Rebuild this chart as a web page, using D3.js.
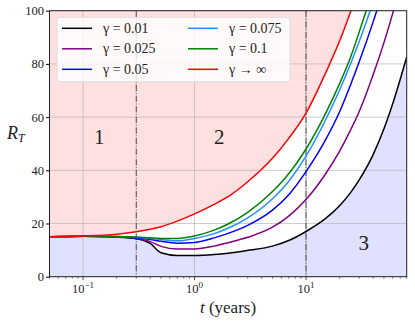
<!DOCTYPE html>
<html>
<head>
<meta charset="utf-8">
<script src="https://cdn.jsdelivr.net/npm/d3@7"></script>
<style>
body { margin: 0; background: #fff; }
svg text { font-family: "Liberation Serif", "DejaVu Serif", serif; fill: #222; }
</style>
</head>
<body>
<div id="chart"></div>
<script>
// data
var times = [0.05, 0.1, 0.2, 0.3, 0.4, 0.5, 0.7, 1, 1.5, 2, 3, 5, 7, 10, 15, 20, 25, 30, 40, 50, 60, 80];
var gamma001  = [15.0, 15.2, 14.9, 14.3, 12.5, 9.0, 8.0, 8.0, 8.35, 8.85, 9.9, 11.5, 13.6, 17.0, 21.9, 26.7, 31.5, 36.4, 45.9, 55.6, 65.1, 82.6];
var gamma0025 = [15.0, 15.2, 15.0, 14.4, 13.2, 11.4, 10.4, 10.4, 11.5, 12.8, 14.8, 18.6, 22.8, 29.0, 38.7, 47.2, 55.0, 62.1, 75.9, 88.0, 99.1, 117.9];
var gamma005  = [15.0, 15.2, 15.0, 14.6, 14.0, 13.3, 12.6, 12.9, 14.6, 16.3, 19.3, 25.0, 30.8, 39.5, 51.5, 62.0, 72.0, 80.8, 95.8, 108.5, null, null];
var gamma0075 = [15.0, 15.2, 15.1, 14.8, 14.4, 14.0, 13.5, 14.4, 16.2, 18.2, 22.1, 29.3, 35.9, 45.3, 59.0, 70.2, 79.9, 88.4, 103.2, null, null, null];
var gamma01   = [15.0, 15.2, 15.1, 14.9, 14.6, 14.4, 14.4, 15.3, 17.5, 19.8, 24.2, 32.0, 38.7, 48.0, 61.4, 72.6, 82.3, 92.0, 108.0, null, null, null];
var gammaInf  = [15.0, 15.3, 16.0, 16.9, 17.8, 18.8, 20.9, 23.6, 27.2, 30.1, 35.7, 44.5, 52.0, 61.5, 76.6, 88.6, 99.4, 108.6, null, null, null, null];
var yTicks = [0, 20, 40, 60, 80, 100];
var xTicks = [0.1, 1, 10];
var xTickExp = ["\u22121", "0", "1"];
var phaseTimes = [0.3, 10];
var legendLabels = ["\u03b3 = 0.01", "\u03b3 = 0.025", "\u03b3 = 0.05", "\u03b3 = 0.075", "\u03b3 = 0.1", "\u03b3 \u2192 \u221e"];
var regionLabels = [{text: "1", t: 0.14, r: 50}, {text: "2", t: 1.67, r: 50}, {text: "3", t: 33, r: 10}];

var series = [
    {vals: gamma001, color: "black"},
    {vals: gamma0025, color: "purple"},
    {vals: gamma005, color: "blue"},
    {vals: gamma0075, color: "dodgerblue"},
    {vals: gamma01, color: "green"},
    {vals: gammaInf, color: "red"}
];

var margin = {top: 10.7, right: 8.3, bottom: 46.3, left: 49.5},
    width = 415 - margin.left - margin.right,
    height = 323 - margin.top - margin.bottom;

var svg = d3.select("#chart")
  .append("svg")
    .attr("width", 415)
    .attr("height", 323)
  .append("g")
    .attr("transform", "translate(" + margin.left + "," + margin.top + ")");

var x = d3.scaleLog().domain([0.05, 80]).range([0, width]);
var y = d3.scaleLinear().domain([0, 100]).range([height, 0]);

svg.append("clipPath").attr("id", "clip")
  .append("rect").attr("width", width).attr("height", height);

var plot = svg.append("g").attr("clip-path", "url(#clip)");

// shaded regions
var redPts = times.map(function(t, i) { return {t: t, v: gammaInf[i]}; }).filter(function(d) { return d.v != null; });
var blackPts = times.map(function(t, i) { return {t: t, v: gamma001[i]}; });

plot.append("path")
    .attr("fill", "red").attr("fill-opacity", 0.12)
    .attr("d", d3.area().curve(d3.curveMonotoneX)
        .x(function(d) { return x(d.t); })
        .y0(y(130))
        .y1(function(d) { return y(d.v); })(redPts.concat([{t: 80, v: 130}])));

plot.append("path")
    .attr("fill", "blue").attr("fill-opacity", 0.12)
    .attr("d", d3.area().curve(d3.curveMonotoneX)
        .x(function(d) { return x(d.t); })
        .y0(y(0))
        .y1(function(d) { return y(d.v); })(blackPts));

// grid
plot.selectAll(".hgrid").data(yTicks).enter().append("line")
    .attr("x1", 0).attr("x2", width)
    .attr("y1", function(d) { return y(d); }).attr("y2", function(d) { return y(d); })
    .style("stroke", "#b0b0b0").style("stroke-opacity", 0.7).style("stroke-width", 0.9);
plot.selectAll(".vgrid").data(xTicks).enter().append("line")
    .attr("y1", 0).attr("y2", height)
    .attr("x1", function(d) { return x(d); }).attr("x2", function(d) { return x(d); })
    .style("stroke", "#b0b0b0").style("stroke-opacity", 0.7).style("stroke-width", 0.9);

// phase boundaries
plot.selectAll(".phase").data(phaseTimes).enter().append("line")
    .attr("y1", 0).attr("y2", height)
    .attr("x1", function(d) { return x(d); }).attr("x2", function(d) { return x(d); })
    .style("stroke", "#444").style("stroke-width", 1)
    .style("stroke-dasharray", "6.4,1.6,1,1.6");

// curves
series.forEach(function(s) {
    var line = d3.line()
        .defined(function(d, i) { return s.vals[i] != null; })
        .curve(d3.curveMonotoneX)
        .x(function(d) { return x(d); })
        .y(function(d, i) { return y(s.vals[i]); });
    plot.append("path")
        .attr("fill", "none")
        .attr("stroke", s.color)
        .attr("stroke-width", 1.5)
        .attr("d", line(times));
});

// region numbers
svg.selectAll(".region").data(regionLabels).enter().append("text")
    .attr("x", function(d) { return x(d.t); })
    .attr("y", function(d) { return y(d.r); })
    .attr("text-anchor", "middle")
    .style("font-size", "21px")
    .text(function(d) { return d.text; });

// frame
svg.append("rect").attr("width", width).attr("height", height)
    .attr("fill", "none").attr("stroke", "#222").attr("stroke-width", 1);

// y axis
var yAxis = svg.append("g").call(d3.axisLeft(y).tickValues(yTicks).tickSize(3.5).tickPadding(2));
yAxis.attr("font-family", null);
yAxis.select(".domain").remove();
yAxis.selectAll("text").style("font-size", "12.5px").attr("fill", "#333");

// x axis, major and minor log ticks
var minor = [];
[0.01, 0.1, 1, 10].forEach(function(dec) {
    for (var k = 2; k <= 9; k++) {
        var v = dec * k;
        if (v >= 0.05 && v <= 80) minor.push(v);
    }
});
svg.append("g").selectAll("line").data(minor).enter().append("line")
    .attr("x1", function(d) { return x(d); }).attr("x2", function(d) { return x(d); })
    .attr("y1", height).attr("y2", height + 2)
    .style("stroke", "#222").style("stroke-width", 0.6);
svg.append("g").selectAll("line").data(xTicks).enter().append("line")
    .attr("x1", function(d) { return x(d); }).attr("x2", function(d) { return x(d); })
    .attr("y1", height).attr("y2", height + 3.5)
    .style("stroke", "#222").style("stroke-width", 0.8);
var xl = svg.append("g").selectAll("text").data(xTicks).enter().append("text")
    .attr("x", function(d) { return x(d); })
    .attr("y", height + 16)
    .attr("text-anchor", "middle")
    .style("font-size", "12.5px").attr("fill", "#333");
xl.append("tspan").text("10");
xl.append("tspan").attr("dy", -5).style("font-size", "9px").text(function(d, i) { return xTickExp[i]; });

// axis titles
var xt = svg.append("text")
    .attr("x", 228 - margin.left)
    .attr("y", height + 36)
    .attr("text-anchor", "middle")
    .style("font-size", "17px");
xt.append("tspan").style("font-style", "italic").text("t");
xt.append("tspan").text(" (years)");

var yt = svg.append("text")
    .attr("x", 7 - margin.left)
    .attr("y", 139 - margin.top)
    .style("font-size", "18px");
yt.append("tspan").style("font-style", "italic").text("R");
yt.append("tspan").attr("dy", 3).style("font-size", "12px").style("font-style", "italic").text("T");

// legend
var legend = svg.append("g").attr("transform", "translate(" + (57 - margin.left) + "," + (17.3 - margin.top) + ")");
legend.append("rect")
    .attr("width", 233).attr("height", 64.5).attr("rx", 3)
    .attr("fill", "white").attr("fill-opacity", 0.8)
    .attr("stroke", "#d8d8d8").attr("stroke-width", 0.8);
series.forEach(function(s, i) {
    var col = Math.floor(i / 3), row = i % 3;
    var gx = 5 + col * 126, gy = 11 + row * 20.5;
    legend.append("line")
        .attr("x1", gx).attr("x2", gx + 30).attr("y1", gy).attr("y2", gy)
        .style("stroke", s.color).style("stroke-width", 1.5);
    legend.append("text")
        .attr("x", gx + 41).attr("y", gy + 4.5)
        .style("font-size", "14px").attr("fill", "#333")
        .text(legendLabels[i]);
});
</script>
</body>
</html>
